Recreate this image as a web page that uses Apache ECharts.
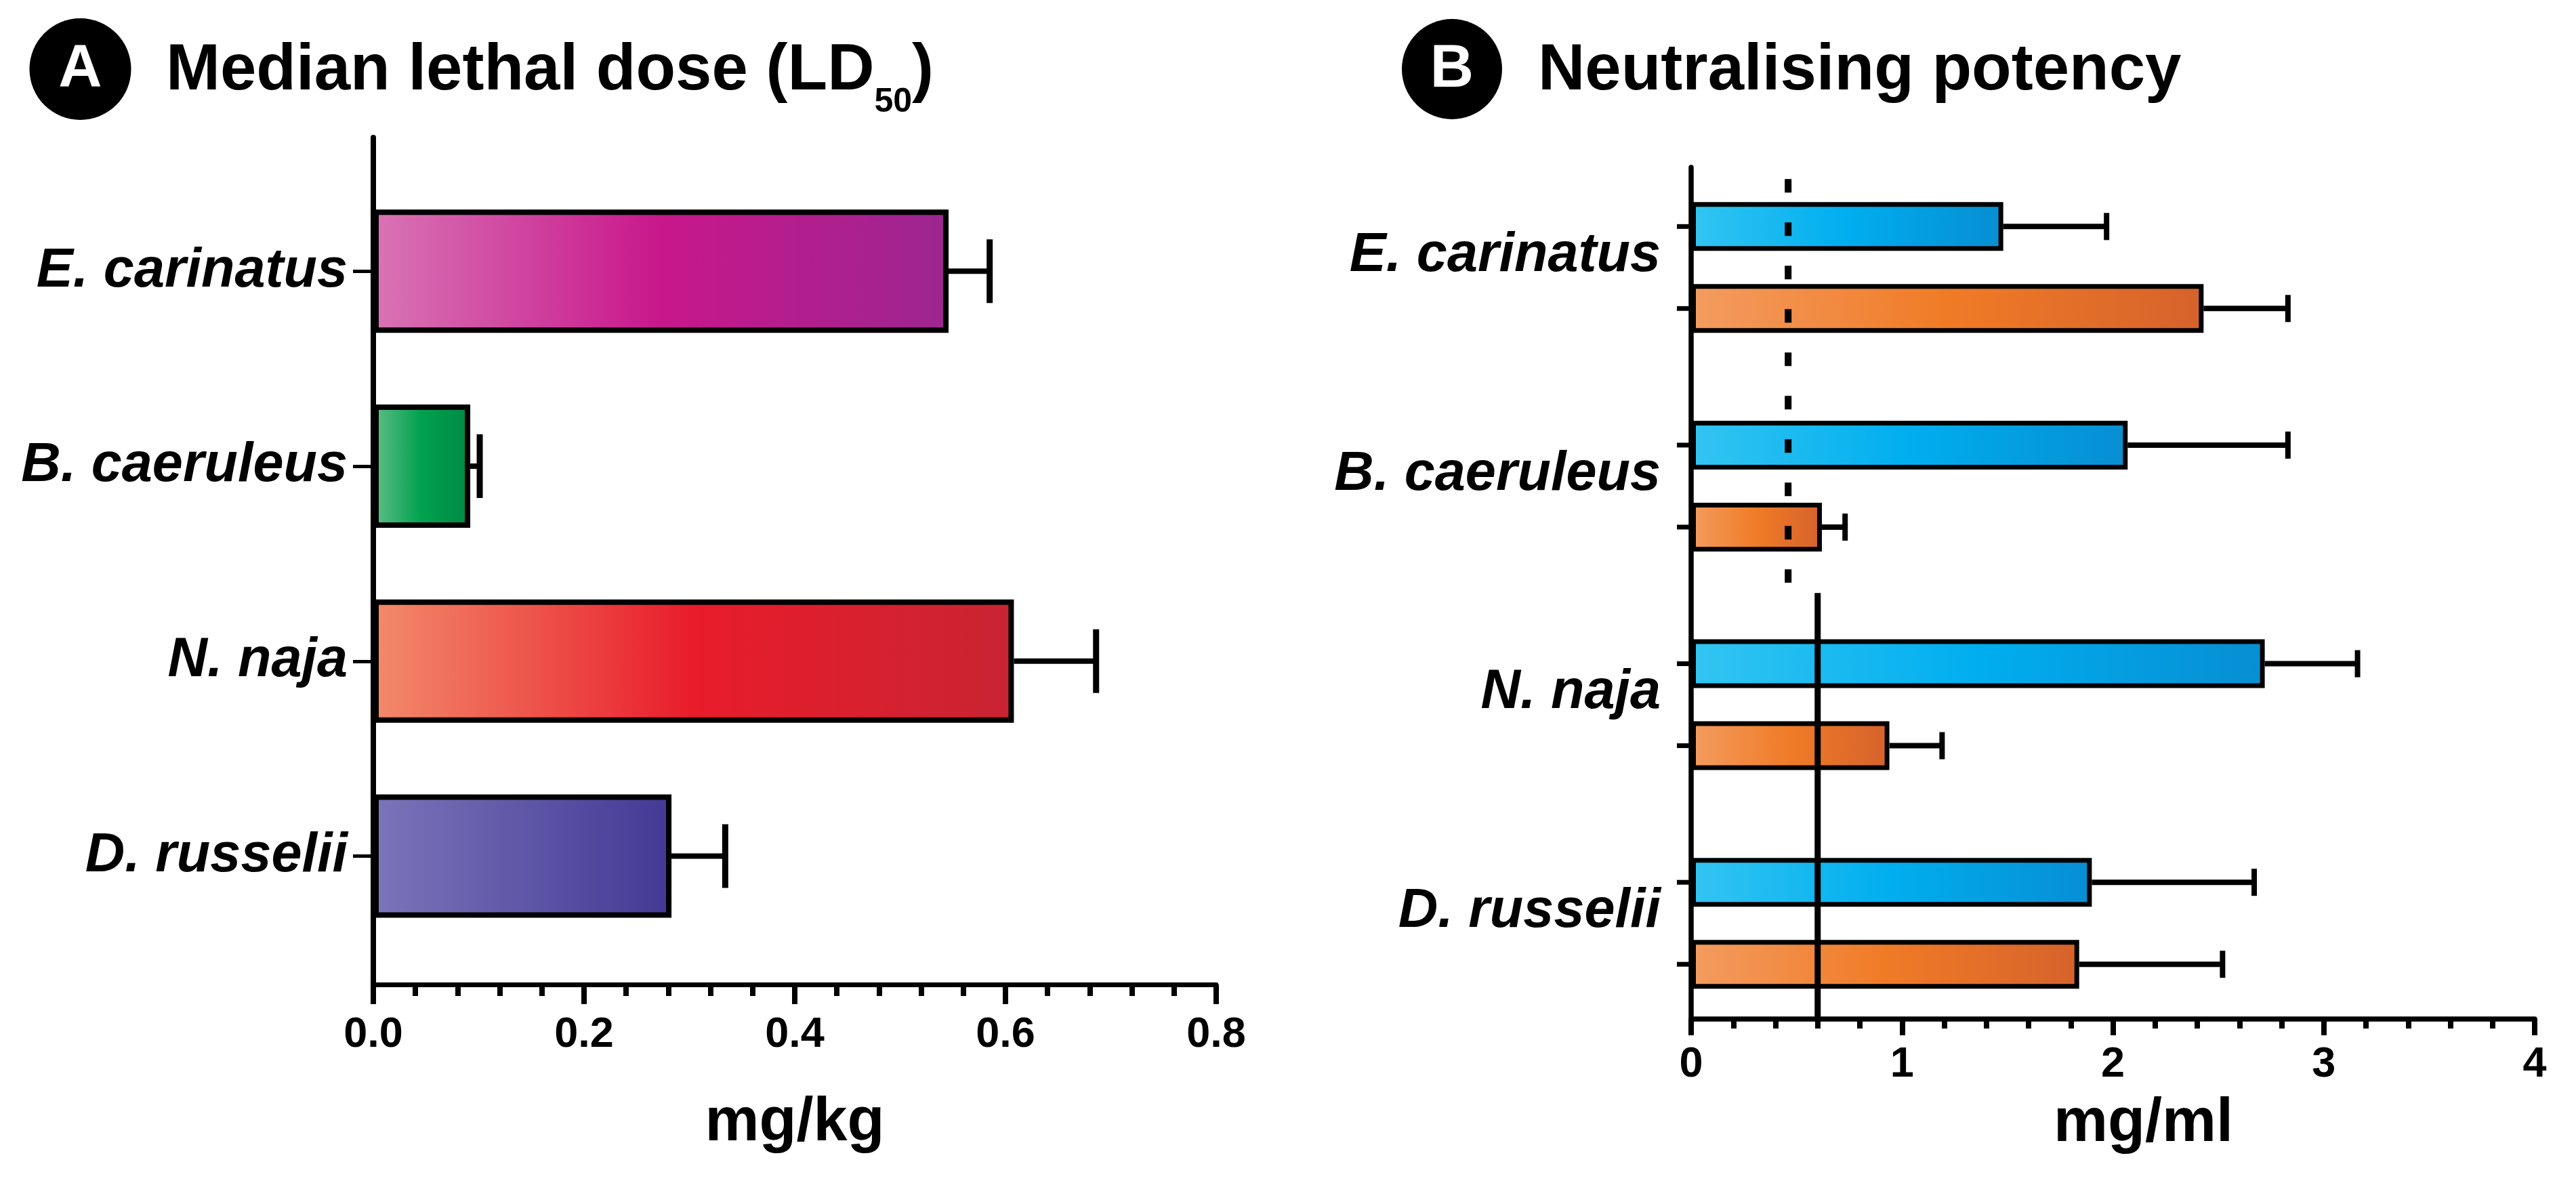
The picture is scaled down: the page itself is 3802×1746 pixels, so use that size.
<!DOCTYPE html>
<html>
<head>
<meta charset="utf-8">
<title>Median lethal dose and neutralising potency</title>
<script src="https://cdn.jsdelivr.net/npm/echarts@6/dist/echarts.min.js"></script>
<style>
  html, body { margin: 0; padding: 0; background: #fff; }
  #chart { width: 3802px; height: 1746px; }
</style>
</head>
<body>
<div id="chart"></div>
<script>
// categories
const species = ['E. carinatus', 'B. caeruleus', 'N. naja', 'D. russelii'];

// panel A: LD50, mg/kg (mean and error)
const ld50Mean = [0.546, 0.092, 0.608, 0.283];
const ld50Err = [0.039, 0.009, 0.078, 0.051];
const ld50Ticks = [0, 0.2, 0.4, 0.6, 0.8];

// panel B: neutralising potency, mg/ml (blue and orange groups)
const blueMean = [1.48, 2.07, 2.72, 1.90];
const blueErr = [0.49, 0.76, 0.44, 0.77];
const orangeMean = [2.43, 0.62, 0.94, 1.84];
const orangeErr = [0.40, 0.11, 0.25, 0.68];
const potencyTicks = [0, 1, 2, 3, 4];
// reference levels: dashed for E. carinatus / B. caeruleus, solid for N. naja / D. russelii
const potencyRefs = [0.46, 0.6];

const FONT = 'Liberation Sans, Arial, Helvetica, sans-serif';
const BAR_A = 182, BORDER_A = 8;
const BAR_B = 72, GAP_B = 49, BORDER_B = 7;
const OFFSET_B = (BAR_B + GAP_B) / 2;

const grad = (c0, c1, c2) => new echarts.graphic.LinearGradient(0, 0, 1, 0, [
  { offset: 0, color: c0 }, { offset: 0.5, color: c1 }, { offset: 1, color: c2 }
]);

const ld50Colors = [
  grad('#d874b5', '#c8178b', '#9c2690'),
  grad('#60be88', '#00a14e', '#008944'),
  grad('#f38a6a', '#e81c2b', '#c92432'),
  grad('#7c75ba', '#5f57a7', '#433995')
];
const blueFill = grad('#33c5f2', '#00aeef', '#078ed2');
const orangeFill = grad('#f39c60', '#f07b26', '#d6622c');

const chart = echarts.init(document.getElementById('chart'));

// error bar (plus optional y tick) for a horizontal bar
function errorBar(offset, capHalf, whisker, capW, tick) {
  return function (params, api) {
    const idx = api.value(2);
    const mean = api.value(0);
    const a = api.coord([mean, idx]);
    const b = api.coord([mean + api.value(1), idx]);
    const y = a[1] + offset;
    const children = [
      { type: 'line', shape: { x1: a[0], y1: y, x2: b[0], y2: y }, style: { stroke: '#000', lineWidth: whisker } },
      { type: 'line', shape: { x1: b[0], y1: y - capHalf, x2: b[0], y2: y + capHalf }, style: { stroke: '#000', lineWidth: capW } }
    ];
    if (tick) {
      const x0 = api.coord([0, idx])[0];
      children.push({ type: 'line', shape: { x1: x0 - tick, y1: y, x2: x0, y2: y }, style: { stroke: '#000', lineWidth: 7 } });
    }
    return { type: 'group', children: children };
  };
}

const refSpans = [[0.405, 0.442], [0.511, 0.439]];

const option = {
  animation: false,
  backgroundColor: '#fff',
  title: [
    {
      text: '{t|Median lethal dose (LD}{s|50}{t|)}',
      left: 245, top: 58, padding: 0,
      textStyle: {
        rich: {
          t: { fontSize: 96, fontWeight: 'bold', fontFamily: FONT, color: '#000', lineHeight: 96, verticalAlign: 'middle' },
          s: { fontSize: 50, fontWeight: 'bold', fontFamily: FONT, color: '#000', lineHeight: 50, padding: [91, 0, 0, 0], verticalAlign: 'middle' }
        }
      }
    },
    {
      text: 'Neutralising potency',
      left: 2270, top: 58, padding: 0,
      textStyle: { fontSize: 96, fontWeight: 'bold', fontFamily: FONT, color: '#000', lineHeight: 96 }
    }
  ],
  graphic: [
    { type: 'circle', shape: { cx: 118.5, cy: 102, r: 75 }, style: { fill: '#000' } },
    { type: 'text', x: 118.5, y: 103, style: { text: 'A', fill: '#fff', fontSize: 89, fontWeight: 'bold', fontFamily: FONT, align: 'center', verticalAlign: 'middle' } },
    { type: 'circle', shape: { cx: 2143, cy: 102, r: 74 }, style: { fill: '#000' } },
    { type: 'text', x: 2143, y: 103, style: { text: 'B', fill: '#fff', fontSize: 89, fontWeight: 'bold', fontFamily: FONT, align: 'center', verticalAlign: 'middle' } }
  ],
  grid: [
    { left: 551, top: 203, width: 1244, height: 1250 },
    { left: 551, top: 256.3, width: 1244, height: 1151.2 },
    { left: 2496, top: 247, width: 1245, height: 1257 },
    { left: 2496, top: 233.5, width: 1245, height: 1290.5 }
  ],
  xAxis: [
    {
      gridIndex: 0, type: 'value',
      min: ld50Ticks[0], max: ld50Ticks[ld50Ticks.length - 1], interval: ld50Ticks[1] - ld50Ticks[0],
      axisLine: { onZero: false, lineStyle: { color: '#000', width: 7 } },
      axisTick: { show: true, length: 29, lineStyle: { color: '#000', width: 8 } },
      minorTick: { show: true, splitNumber: 5, length: 17, lineStyle: { color: '#000', width: 8 } },
      splitLine: { show: false },
      axisLabel: { margin: 43, fontSize: 63, fontWeight: 'bold', fontFamily: FONT, color: '#000', lineHeight: 63,
        formatter: v => v.toFixed(1) },
      name: 'mg/kg', nameLocation: 'middle', nameGap: 160,
      nameTextStyle: { fontSize: 90, fontWeight: 'bold', fontFamily: FONT, color: '#000', lineHeight: 90 }
    },
    { gridIndex: 1, type: 'value', min: ld50Ticks[0], max: ld50Ticks[ld50Ticks.length - 1], show: false },
    {
      gridIndex: 2, type: 'value',
      min: potencyTicks[0], max: potencyTicks[potencyTicks.length - 1], interval: potencyTicks[1] - potencyTicks[0],
      axisLine: { onZero: false, lineStyle: { color: '#000', width: 7.5 } },
      axisTick: { show: true, length: 24, lineStyle: { color: '#000', width: 8 } },
      minorTick: { show: true, splitNumber: 5, length: 14, lineStyle: { color: '#000', width: 8 } },
      splitLine: { show: false },
      axisLabel: { margin: 36, fontSize: 63, fontWeight: 'bold', fontFamily: FONT, color: '#000', lineHeight: 63 },
      name: 'mg/ml', nameLocation: 'middle', nameGap: 110,
      nameTextStyle: { fontSize: 90, fontWeight: 'bold', fontFamily: FONT, color: '#000', lineHeight: 90, padding: [0, 0, 0, 90] }
    },
    { gridIndex: 3, type: 'value', min: potencyTicks[0], max: potencyTicks[potencyTicks.length - 1], show: false }
  ],
  yAxis: [
    {
      gridIndex: 0, type: 'value', min: 0, max: 1,
      axisLine: { show: true, onZero: false, lineStyle: { color: '#000', width: 8 } },
      axisTick: { show: false }, axisLabel: { show: false }, splitLine: { show: false }
    },
    {
      gridIndex: 1, type: 'category', data: species, inverse: true,
      axisLine: { show: false },
      axisTick: { show: true, alignWithLabel: true, length: 30, lineStyle: { color: '#000', width: 5 } },
      axisLabel: { interval: 0, margin: 38, fontSize: 81, fontWeight: 'bold', fontStyle: 'italic', fontFamily: FONT, color: '#000' }
    },
    {
      gridIndex: 2, type: 'value', min: 0, max: 1,
      axisLine: { show: true, onZero: false, lineStyle: { color: '#000', width: 7.5 } },
      axisTick: { show: false }, axisLabel: { show: false }, splitLine: { show: false }
    },
    {
      gridIndex: 3, type: 'category', data: species, inverse: true,
      axisLine: { show: false }, axisTick: { show: false },
      axisLabel: { interval: 0, margin: 45, fontSize: 81, fontWeight: 'bold', fontStyle: 'italic', fontFamily: FONT, color: '#000',
        verticalAlign: 'bottom', lineHeight: 34 }
    }
  ],
  series: [
    {
      name: 'LD50', type: 'bar', xAxisIndex: 1, yAxisIndex: 1, barWidth: BAR_A, silent: true,
      data: ld50Mean.map((v, i) => ({ value: v, itemStyle: { color: ld50Colors[i], borderColor: '#000', borderWidth: BORDER_A } }))
    },
    {
      type: 'custom', xAxisIndex: 1, yAxisIndex: 1, clip: false, silent: true, z: 3,
      encode: { x: 0, y: 2 },
      renderItem: errorBar(0, 47, 8, 9, 0),
      data: ld50Mean.map((v, i) => [v, ld50Err[i], i])
    },
    {
      name: 'Blue', type: 'bar', xAxisIndex: 3, yAxisIndex: 3, barWidth: BAR_B, barGap: (GAP_B / BAR_B * 100) + '%', silent: true,
      itemStyle: { color: blueFill, borderColor: '#000', borderWidth: BORDER_B },
      data: blueMean
    },
    {
      name: 'Orange', type: 'bar', xAxisIndex: 3, yAxisIndex: 3, barWidth: BAR_B, barGap: (GAP_B / BAR_B * 100) + '%', silent: true,
      itemStyle: { color: orangeFill, borderColor: '#000', borderWidth: BORDER_B },
      data: orangeMean
    },
    {
      type: 'custom', xAxisIndex: 3, yAxisIndex: 3, clip: false, silent: true, z: 3,
      encode: { x: 0, y: 2 },
      renderItem: errorBar(-OFFSET_B, 20, 8, 8, 21),
      data: blueMean.map((v, i) => [v, blueErr[i], i])
    },
    {
      type: 'custom', xAxisIndex: 3, yAxisIndex: 3, clip: false, silent: true, z: 3,
      encode: { x: 0, y: 2 },
      renderItem: errorBar(OFFSET_B, 20, 8, 8, 21),
      data: orangeMean.map((v, i) => [v, orangeErr[i], i])
    },
    {
      type: 'custom', xAxisIndex: 3, yAxisIndex: 3, clip: false, silent: true, z: 4,
      encode: { x: 0, y: 1 },
      renderItem: function (params, api) {
        const k = params.dataIndex;
        const band = api.size([0, 1])[1];
        const top = api.coord([api.value(0), api.value(1)]);
        const bottom = api.coord([api.value(0), api.value(1) + 1]);
        const span = refSpans[k];
        return {
          type: 'line',
          shape: { x1: top[0], y1: top[1] - span[0] * band, x2: top[0], y2: bottom[1] + span[1] * band },
          style: k === 0
            ? { stroke: '#000', lineWidth: 10, lineDash: [20, 44] }
            : { stroke: '#000', lineWidth: 9 }
        };
      },
      data: potencyRefs.map((v, k) => [v, 2 * k])
    }
  ]
};

chart.setOption(option);
</script>
</body>
</html>
